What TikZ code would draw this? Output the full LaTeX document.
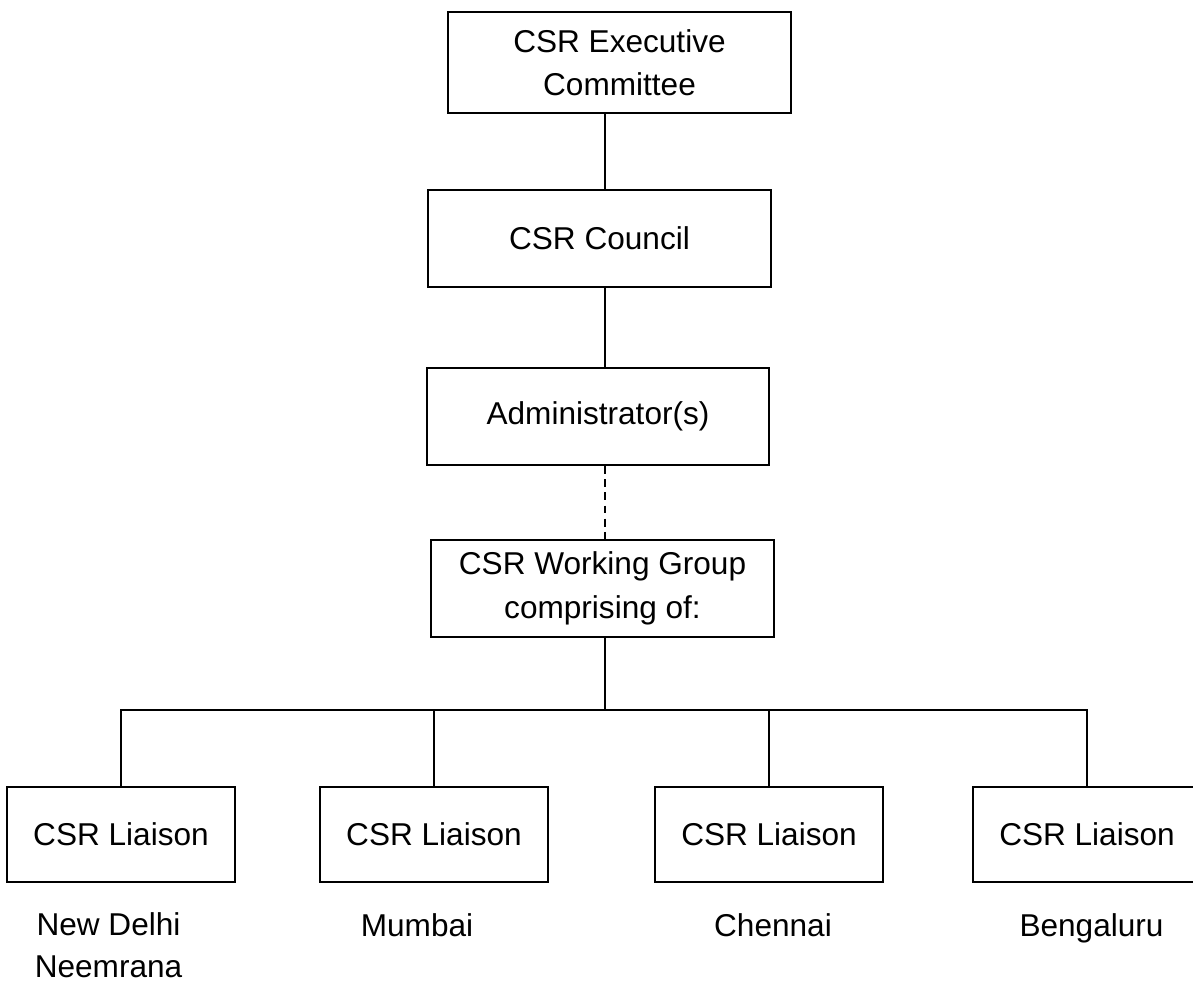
\documentclass[tikz,border=0pt]{standalone}
\usepackage{fontspec}
\setmainfont{Liberation Sans}
\usetikzlibrary{positioning}

\begin{document}
\begin{tikzpicture}[x=0.38pt, y=-0.38pt,
  orgbox/.style={draw, line width=0.75pt, align=center, inner sep=0pt,
                 font=\fontsize{12}{16.5}\selectfont},
  bigbox/.style={orgbox, minimum width=130.3pt, minimum height=36.9pt},
  liaisonbox/.style={orgbox, minimum width=86.6pt, minimum height=36.1pt},
  placename/.style={align=center, inner sep=0pt, anchor=base,
                    font=\fontsize{12}{15.6}\selectfont},
  link/.style={line width=0.75pt},
  dottedlink/.style={line width=0.75pt, dash pattern=on 3pt off 2pt}]

\useasboundingbox (0,0) rectangle (1193,981);

% the chain of boxes
\node[bigbox, minimum height=38.4pt] (exec) at (619.5,62.5) {CSR Executive\\Committee};
\node[bigbox] (council) at (599.5,238.5) {CSR Council};
\node[bigbox] (admin) at (598,416.5) {Administrator(s)};
\node[bigbox] (wg) at (602.5,588.5) {CSR Working Group\\comprising of:};

% liaison boxes
\node[liaisonbox] (l1) at (121,834.5) {CSR Liaison};
\node[liaisonbox] (l2) at (434,834.5) {CSR Liaison};
\node[liaisonbox] (l3) at (769,834.5) {CSR Liaison};
\node[liaisonbox] (l4) at (1087,834.5) {CSR Liaison};

% places (base of a two line node is its last line)
\node[placename] (delhi) at (108.5,977) {New Delhi\\Neemrana};
\node[placename] (mumbai) at (417,936) {Mumbai};
\node[placename] (chennai) at (773,936) {Chennai};
\node[placename] (bengaluru) at (1091.5,936) {Bengaluru};

% connectors
\coordinate (spine) at (605,0);
\coordinate (busM) at (605,710);
\draw[link] (exec.south -| spine) -- (council.north -| spine);
\draw[link] (council.south -| spine) -- (admin.north -| spine);
\draw[dottedlink] (admin.south -| spine) -- (wg.north -| spine);
\draw[link] (wg.south -| spine) -- (busM);
\draw[link] (l1.north) -- (l1.north |- busM) -- (l4.north |- busM) -- (l4.north);
\foreach \n in {l2,l3}
  \draw[link] (\n.north) -- (\n.north |- busM);

\end{tikzpicture}
\end{document}
